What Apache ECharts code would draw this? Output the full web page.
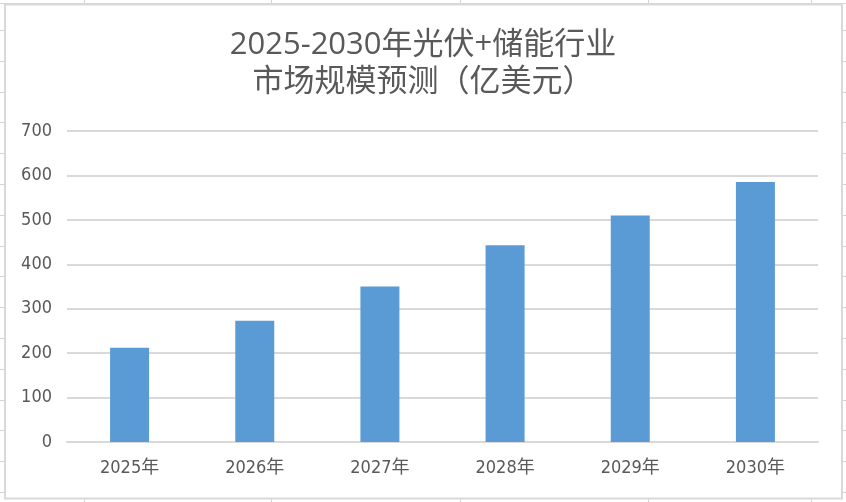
<!DOCTYPE html>
<html><head><meta charset="utf-8">
<script src="https://cdn.jsdelivr.net/npm/echarts@6/dist/echarts.min.js"></script>
<style>html,body{margin:0;padding:0;background:#fff}#c{width:846px;height:502px}</style>
</head><body><div id="c"></div>
<script>
const titleLines = ['2025-2030年光伏+储能行业', '市场规模预测（亿美元）'];
const categories = ['2025年', '2026年', '2027年', '2028年', '2029年', '2030年'];
const values = [212, 273, 350, 443, 510, 585];
const yTicks = [0, 700, 100];

// decorative spreadsheet cell lines around the chart frame
const deco = [];
const cellStroke = { stroke: '#d4d4d4', lineWidth: 1 };
[84, 271, 460, 648, 811].forEach(x => {
  deco.push({ type: 'line', silent: true, shape: { x1: x + 0.5, y1: 0, x2: x + 0.5, y2: 4 }, style: cellStroke });
  deco.push({ type: 'line', silent: true, shape: { x1: x + 0.5, y1: 499, x2: x + 0.5, y2: 502 }, style: cellStroke });
});
for (let y = 30; y < 500; y += 30.8) {
  const yy = Math.round(y) + 0.5;
  deco.push({ type: 'line', silent: true, shape: { x1: 0, y1: yy, x2: 5, y2: yy }, style: cellStroke });
  deco.push({ type: 'line', silent: true, shape: { x1: 842, y1: yy, x2: 846, y2: yy }, style: cellStroke });
}
deco.push({ type: 'line', silent: true, shape: { x1: 0, y1: 3.5, x2: 846, y2: 3.5 }, style: cellStroke });
deco.push({
  type: 'rect', silent: true, shape: { x: 5, y: 4.5, width: 837, height: 494 },
  style: { fill: 'none', stroke: '#d9d9d9', lineWidth: 2 }
});

const chart = echarts.init(document.getElementById('c'));
const font = '"DejaVu Sans Condensed", "Liberation Sans Narrow", "Noto Sans CJK SC", sans-serif';
chart.setOption({
  backgroundColor: '#fff',
  animation: false,
  title: {
    text: titleLines.join('\n'),
    left: 'center', top: 22,
    textStyle: { fontFamily: '"Open Sans", "Noto Sans CJK SC", sans-serif', fontSize: 31, fontWeight: 'normal', color: '#595959', lineHeight: 37 }
  },
  graphic: deco,
  grid: { left: 67, right: 28, top: 131, bottom: 60 },
  xAxis: {
    type: 'category', data: categories,
    axisLine: { lineStyle: { color: '#d9d9d9', width: 2 } },
    axisTick: { show: false },
    axisLabel: { fontFamily: font, fontSize: 18, color: '#595959', margin: 17 }
  },
  yAxis: {
    type: 'value', min: yTicks[0], max: yTicks[1], interval: yTicks[2],
    axisLine: { show: false }, axisTick: { show: false },
    splitLine: { lineStyle: { color: '#d9d9d9', width: 2 } },
    axisLabel: { fontFamily: font, fontSize: 18, color: '#595959', margin: 15 }
  },
  series: [{
    type: 'bar', data: values, barWidth: 39,
    itemStyle: { color: '#5b9bd5' }
  }]
});
</script></body></html>
